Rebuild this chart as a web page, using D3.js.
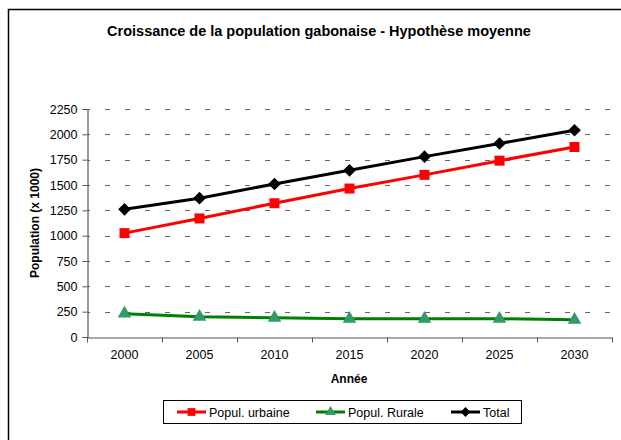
<!DOCTYPE html>
<html>
<head>
<meta charset="utf-8">
<script src="https://cdn.jsdelivr.net/npm/d3@7"></script>
<style>
  body { margin: 0; background: #fff; }
  text { font-family: Arial, "Liberation Sans", sans-serif; fill: #000; }
</style>
</head>
<body>
<div id="chart"></div>
<script>
var years = ["2000", "2005", "2010", "2015", "2020", "2025", "2030"];
var urbaine = [1025, 1170, 1320, 1465, 1600, 1740, 1875];
var rurale = [230, 200, 190, 180, 180, 180, 170];
var total = [1260, 1370, 1510, 1645, 1780, 1910, 2040];
var yTicks = [0, 250, 500, 750, 1000, 1250, 1500, 1750, 2000, 2250];

var width = 621, height = 440;
var plotLeft = 87, plotRight = 612, plotTop = 109, plotBottom = 337;

var svg = d3.select("#chart")
    .append("svg")
    .attr("width", width)
    .attr("height", height);

// outer frame (top + left edge only visible)
svg.append("path")
    .attr("d", "M8.5,440 V9.5 H621")
    .attr("fill", "none")
    .attr("stroke", "#000")
    .attr("stroke-width", 1.5);

var x = d3.scaleBand().domain(years).range([plotLeft, plotRight]);
var y = d3.scaleLinear().domain([0, 2250]).range([plotBottom, plotTop]);

// gridlines
svg.append("g")
    .selectAll("line")
    .data(yTicks.slice(1))
  .enter().append("line")
    .attr("x1", plotLeft + 1)
    .attr("x2", plotRight)
    .attr("y1", function(d){ return Math.round(y(d)) + 0.5; })
    .attr("y2", function(d){ return Math.round(y(d)) + 0.5; })
    .attr("stroke", "#666")
    .attr("stroke-dasharray", "5,15")
    .attr("stroke-dashoffset", -17);

// y axis
var yAxis = svg.append("g")
    .attr("transform", "translate(" + (plotLeft + 0.5) + ",0)")
    .call(d3.axisLeft(y).tickValues(yTicks).tickFormat(d3.format("d")).tickSize(5).tickPadding(5));
yAxis.selectAll("text").style("font-size", "12.5px");

// x axis
var xAxis = svg.append("g")
    .attr("transform", "translate(0," + (plotBottom + 0.5) + ")")
    .call(d3.axisBottom(x).tickSize(0).tickPadding(13));
xAxis.selectAll("text").style("font-size", "12.5px");
xAxis.selectAll(".tick line").remove();
xAxis.selectAll("line.sep")
    .data(years.concat(["end"]))
  .enter().append("line")
    .attr("class", "sep")
    .attr("x1", function(d, i){ return Math.round(plotLeft + i * x.bandwidth()) + 0.5; })
    .attr("x2", function(d, i){ return Math.round(plotLeft + i * x.bandwidth()) + 0.5; })
    .attr("y1", 0)
    .attr("y2", 5)
    .attr("stroke", "#555");

svg.selectAll(".domain").attr("stroke", "#555").attr("stroke-width", 1.2);
svg.selectAll(".tick line").attr("stroke", "#555");

// titles
svg.append("text")
    .attr("x", 319).attr("y", 36)
    .attr("text-anchor", "middle")
    .style("font-size", "14.5px").style("font-weight", "bold")
    .text("Croissance de la population gabonaise - Hypothèse moyenne");

svg.append("text")
    .attr("transform", "translate(39,223) rotate(-90)")
    .attr("text-anchor", "middle")
    .style("font-size", "12px").style("font-weight", "bold")
    .text("Population (x 1000)");

svg.append("text")
    .attr("x", 349).attr("y", 383)
    .attr("text-anchor", "middle")
    .style("font-size", "12px").style("font-weight", "bold")
    .text("Année");

// square rotated 45 degrees, as in the original
var diamond = {
  draw: function(ctx, size) {
    var r = Math.sqrt(size / 2);
    ctx.moveTo(0, -r); ctx.lineTo(r, 0); ctx.lineTo(0, r); ctx.lineTo(-r, 0); ctx.closePath();
  }
};

var series = [
  { name: "Popul. urbaine", values: urbaine, color: "#ff0000", fill: "#ff0000", marker: d3.symbolSquare, size: 100 },
  { name: "Popul. Rurale", values: rurale, color: "#008000", fill: "#339966", marker: d3.symbolTriangle, size: 80 },
  { name: "Total", values: total, color: "#000000", fill: "#000000", marker: diamond, size: 80 }
];

var line = d3.line()
    .x(function(d, i){ return x(years[i]) + x.bandwidth() / 2; })
    .y(function(d){ return y(d); });

series.forEach(function(s){
  svg.append("path")
      .datum(s.values)
      .attr("d", line)
      .attr("fill", "none")
      .attr("stroke", s.color)
      .attr("stroke-width", 3);
  svg.append("g")
      .selectAll("path")
      .data(s.values)
    .enter().append("path")
      .attr("d", d3.symbol().type(s.marker).size(s.size))
      .attr("transform", function(d, i){
        return "translate(" + (x(years[i]) + x.bandwidth() / 2) + "," + y(d) + ")";
      })
      .attr("fill", s.fill);
});

// legend
var legend = svg.append("g");
legend.append("rect")
    .attr("x", 163.5).attr("y", 400.5)
    .attr("width", 358).attr("height", 23)
    .attr("fill", "#fff").attr("stroke", "#000");

var legendX = [177, 316, 451];
series.forEach(function(s, i){
  var g = legend.append("g").attr("transform", "translate(" + legendX[i] + ",412)");
  g.append("line")
      .attr("x1", 0).attr("x2", 29)
      .attr("stroke", s.color).attr("stroke-width", 3);
  g.append("path")
      .attr("d", d3.symbol().type(s.marker).size(s.size * 0.6))
      .attr("transform", "translate(14.5,0)")
      .attr("fill", s.fill);
  g.append("text")
      .attr("x", 32).attr("y", 4.5)
      .style("font-size", "12.5px")
      .text(s.name);
});
</script>
</body>
</html>
